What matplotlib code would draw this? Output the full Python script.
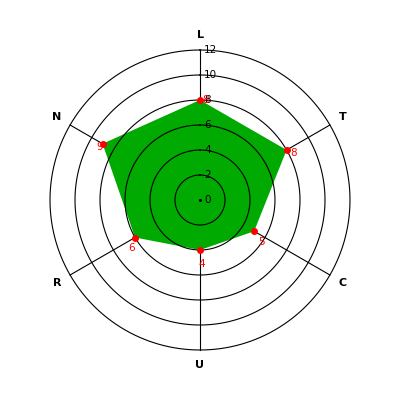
import matplotlib
matplotlib.use("Agg")
import matplotlib.pyplot as plt
import numpy as np

categories = ["L", "T", "C", "U", "R", "N"]
values = [8, 8, 5, 4, 6, 9]
rticks = [0, 2, 4, 6, 8, 10, 12]
rmax = 12

fig = plt.figure(figsize=(4, 4), dpi=100)
ax = fig.add_axes([0.125, 0.125, 0.75, 0.75], projection="polar")
ax.set_theta_zero_location("N")
ax.set_theta_direction(-1)
ax.set_ylim(0, rmax)
ax.grid(False)
ax.spines["polar"].set_visible(False)
ax.set_xticks([])
ax.set_yticks([])

n = len(categories)
angles = np.arange(n) * 2 * np.pi / n

# spokes (under the fill)
for a in angles:
    ax.plot([a, a], [0, rmax], color="black", lw=0.8, zorder=1, clip_on=False)

# filled polygon
th = np.append(angles, angles[0])
vv = values + values[:1]
ax.fill(th, vv, color="#00aa00", zorder=2, lw=0)

# rings drawn over the fill
circ = np.linspace(0, 2 * np.pi, 361)
for r in rticks[1:]:
    ax.plot(circ, np.full_like(circ, r), color="black", lw=0.8, zorder=3,
            clip_on=False)

# radial tick labels along top spoke
for r in rticks:
    ax.annotate(str(r), (0, r), xytext=(4, 0), textcoords="offset pixels",
                ha="left", va="center", fontsize=7.5, color="black", zorder=5)
ax.plot([0], [0], marker="o", ms=1.2, color="black", zorder=5)

# points + value labels
ax.plot(angles, values, "o", color="red", ms=4, zorder=6)
for a, v in zip(angles, values):
    dx = 2 + 6 * np.sin(a)
    dy = -(7 - 7 * np.cos(a))
    ax.annotate(str(v), (a, v), xytext=(dx, dy), textcoords="offset pixels",
                ha="left" if a == 0 else "center", va="center", fontsize=7.5,
                color="red", zorder=7)

# category labels
for a, c in zip(angles, categories):
    ax.text(a, rmax * 1.1, c, ha="center", va="center", fontsize=8,
            fontweight="bold", color="black")

fig.savefig("out.png", dpi=100)
